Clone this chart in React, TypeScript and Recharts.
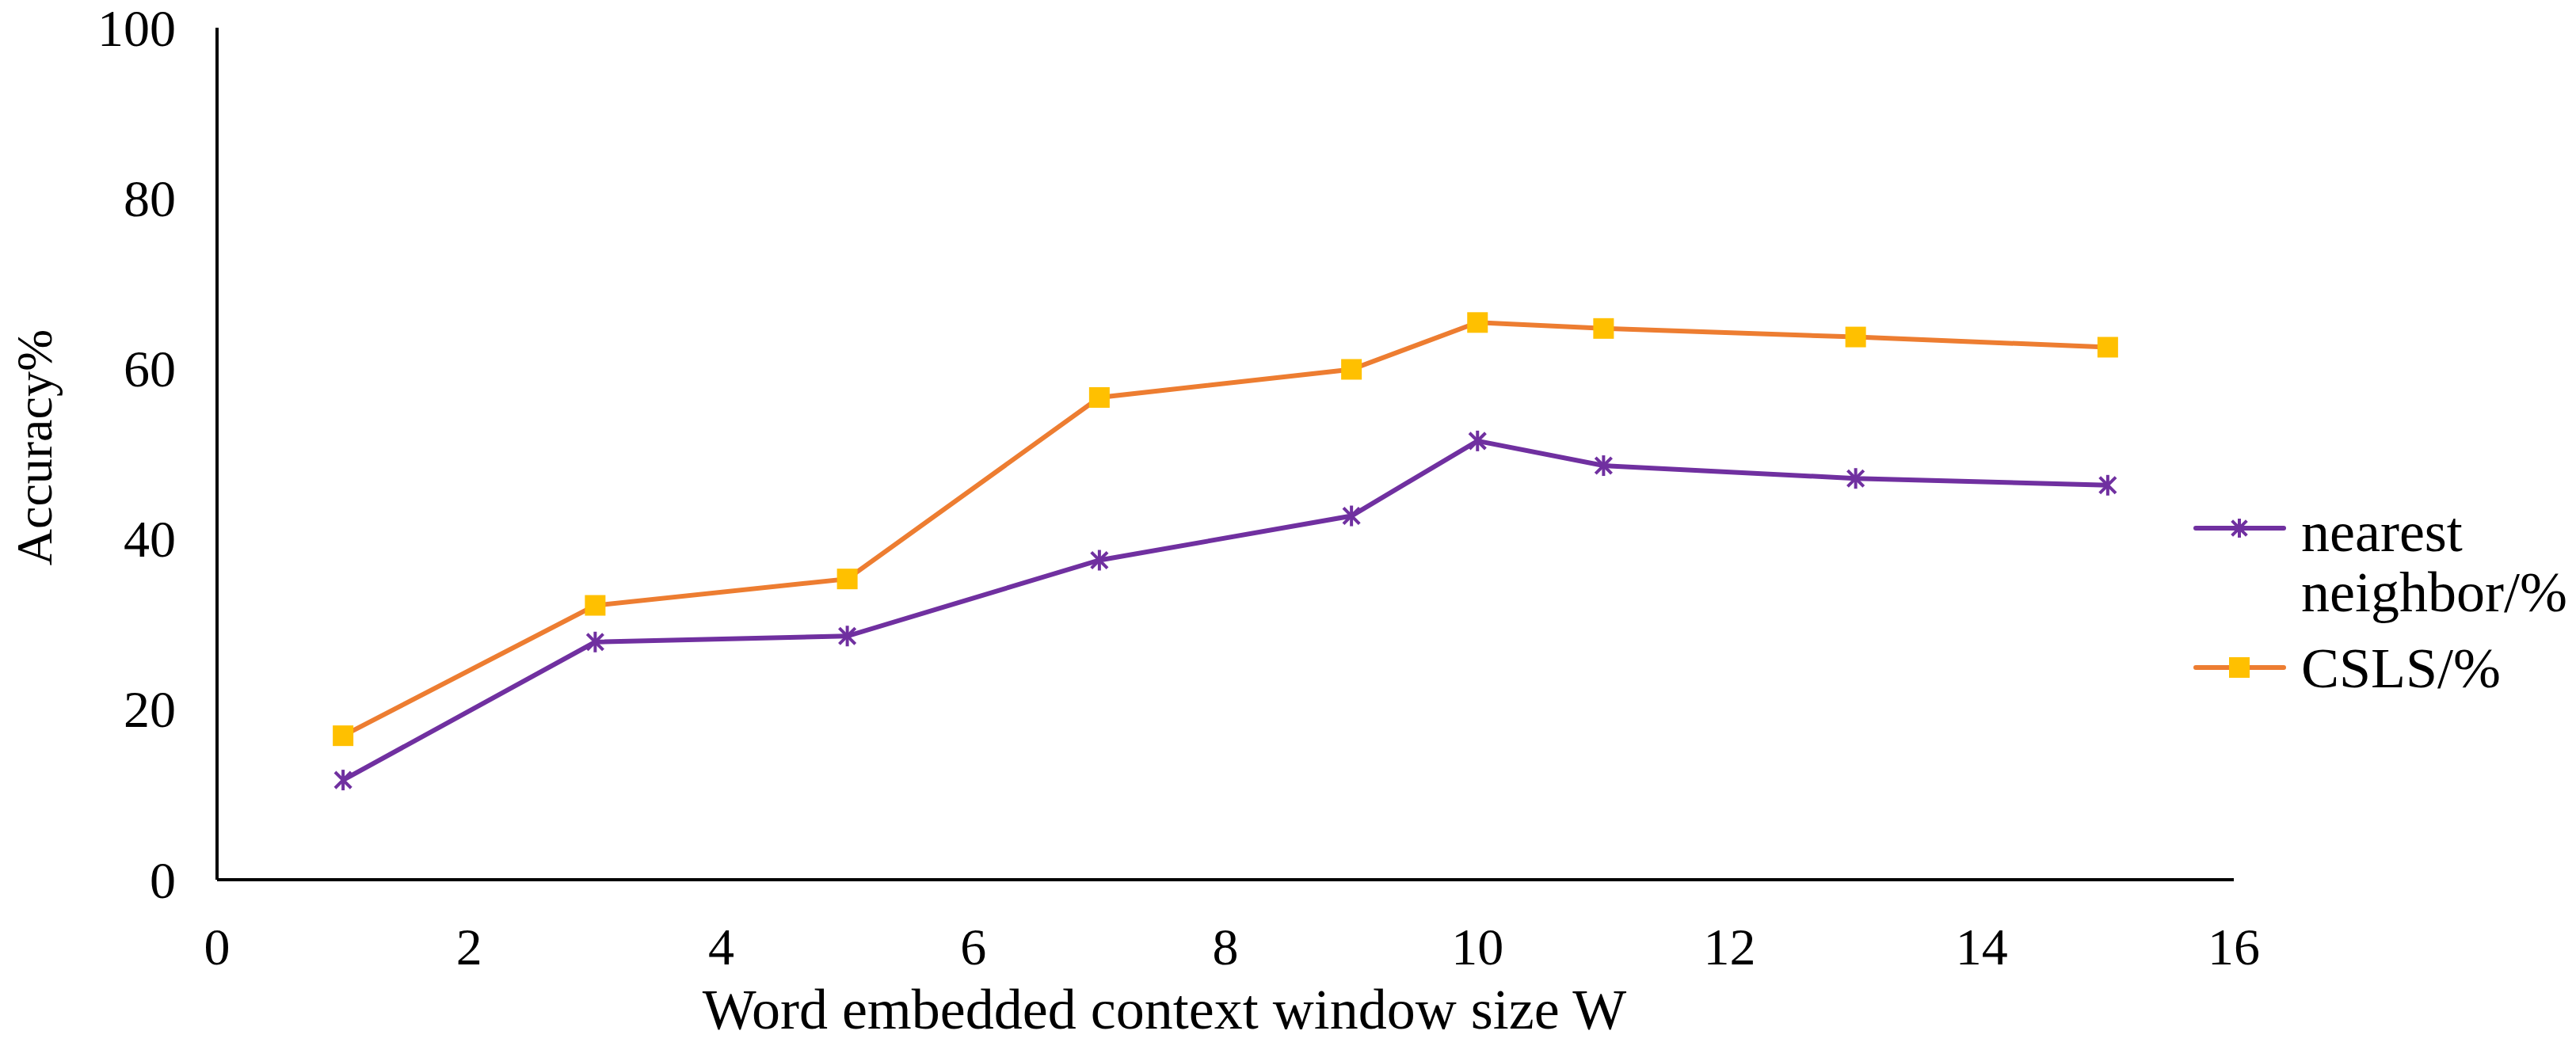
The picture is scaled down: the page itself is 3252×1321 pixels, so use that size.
import React from 'react';
import { LineChart, Line, XAxis, YAxis, Customized } from 'recharts';

const windowSizes = [1, 3, 5, 7, 9, 10, 11, 13, 15];
const nearestNeighbor = [11.7, 27.9, 28.6, 37.5, 42.7, 51.5, 48.6, 47.1, 46.3];
const csls = [16.9, 32.2, 35.3, 56.6, 59.9, 65.4, 64.7, 63.7, 62.5];
const xTicks = [0, 2, 4, 6, 8, 10, 12, 14, 16];
const yTicks = [0, 20, 40, 60, 80, 100];
const nearestLabelLines = ['nearest', 'neighbor/%'];
const cslsLabelLines = ['CSLS/%'];
const xTitle = 'Word embedded context window size W';
const yTitle = 'Accuracy%';

const data = windowSizes.map((w, i) => ({ w, nn: nearestNeighbor[i], csls: csls[i] }));

const FONT = '"Liberation Serif", "Times New Roman", serif';
const PURPLE = '#7030A0';
const ORANGE = '#ED7D31';
const YELLOW = '#FFC000';

const StarMarker = ({ cx, cy, size = 13 }: { cx: number; cy: number; size?: number }) => {
  const d = size * 0.78;
  return (
    <g stroke={PURPLE} strokeWidth={4} strokeLinecap="butt">
      <line x1={cx - d} y1={cy - d} x2={cx + d} y2={cy + d} />
      <line x1={cx - d} y1={cy + d} x2={cx + d} y2={cy - d} />
      <line x1={cx} y1={cy - size} x2={cx} y2={cy + size} />
    </g>
  );
};

const SquareMarker = ({ cx, cy, size = 13 }: { cx: number; cy: number; size?: number }) => (
  <rect x={cx - size} y={cy - size} width={size * 2} height={size * 2} fill={YELLOW} stroke="none" />
);

const XTick = (props: any) => {
  const { x, y, payload } = props;
  return (
    <text x={x} y={y + 84} textAnchor="middle" dominantBaseline="central" fontFamily={FONT} fontSize={66} fill="#000">
      {payload.value}
    </text>
  );
};

const YTick = (props: any) => {
  const { x, y, payload } = props;
  return (
    <text x={x - 52} y={y} textAnchor="end" dominantBaseline="central" fontFamily={FONT} fontSize={66} fill="#000">
      {payload.value}
    </text>
  );
};

const Decorations = () => (
  <g>
    <text
      x={43}
      y={565}
      transform="rotate(-90 43 565)"
      textAnchor="middle"
      dominantBaseline="central"
      fontFamily={FONT}
      fontSize={64}
      fill="#000"
    >
      {yTitle}
    </text>
    <text x={1470} y={1275} textAnchor="middle" dominantBaseline="central" fontFamily={FONT} fontSize={72} fill="#000">
      {xTitle}
    </text>
    {/* legend */}
    <line x1={2772} y1={667} x2={2883} y2={667} stroke={PURPLE} strokeWidth={6} strokeLinecap="round" />
    <StarMarker cx={2827} cy={667} size={12} />
    {nearestLabelLines.map((t, i) => (
      <text key={t} x={2905} y={672 + i * 76} dominantBaseline="central" fontFamily={FONT} fontSize={72} fill="#000">
        {t}
      </text>
    ))}
    <line x1={2772} y1={843} x2={2883} y2={843} stroke={ORANGE} strokeWidth={6} strokeLinecap="round" />
    <SquareMarker cx={2827} cy={843} size={13} />
    {cslsLabelLines.map((t, i) => (
      <text key={t} x={2905} y={844 + i * 76} dominantBaseline="central" fontFamily={FONT} fontSize={72} fill="#000">
        {t}
      </text>
    ))}
  </g>
);

export default function App() {
  return (
    <div style={{ width: 3252, height: 1321, background: '#fff' }}>
      <style>{`html, body { margin: 0; padding: 0; background: #fff; }`}</style>
      <LineChart width={3252} height={1321} data={data} margin={{ top: 35, right: 432, bottom: 0, left: 0 }}>
        <XAxis
          dataKey="w"
          type="number"
          domain={[0, 16]}
          ticks={xTicks}
          interval={0}
          height={210}
          axisLine={{ stroke: '#000', strokeWidth: 4 }}
          tickLine={false}
          tickSize={0}
          tickMargin={0}
          tick={<XTick />}
        />
        <YAxis
          type="number"
          domain={[0, 100]}
          ticks={yTicks}
          interval={0}
          width={274}
          axisLine={{ stroke: '#000', strokeWidth: 4 }}
          tickLine={false}
          tickSize={0}
          tickMargin={0}
          tick={<YTick />}
        />
        <Line
          dataKey="csls"
          stroke={ORANGE}
          strokeWidth={6}
          isAnimationActive={false}
          dot={(p: any) => <SquareMarker key={`s${p.index}`} cx={p.cx} cy={p.cy} size={13} />}
          activeDot={false}
        />
        <Line
          dataKey="nn"
          stroke={PURPLE}
          strokeWidth={6}
          isAnimationActive={false}
          dot={(p: any) => <StarMarker key={`n${p.index}`} cx={p.cx} cy={p.cy} size={13} />}
          activeDot={false}
        />
        <Customized component={Decorations} />
      </LineChart>
    </div>
  );
}
